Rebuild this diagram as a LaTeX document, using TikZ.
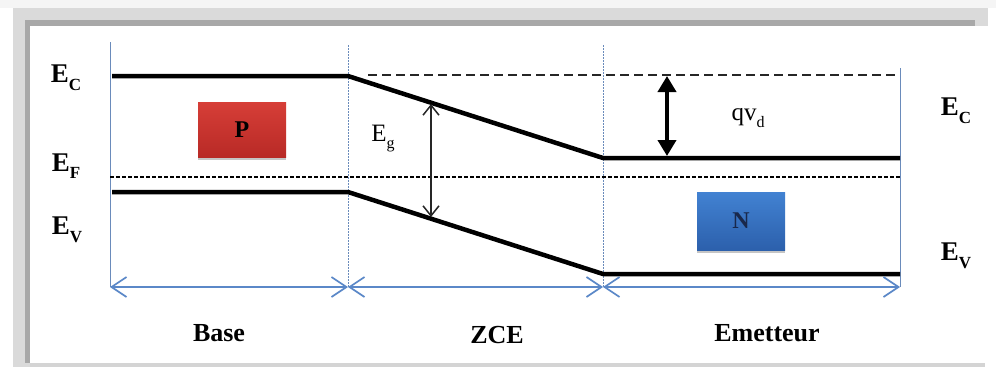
\documentclass[tikz,border=0pt]{standalone}
\usepackage{fontspec}
\setmainfont{Liberation Serif}
\usetikzlibrary{arrows.meta,shadows}
\definecolor{vline}{HTML}{6A8BBB}
\definecolor{dimblue}{HTML}{5B88C8}
\definecolor{bandlight}{HTML}{DADADA}
\definecolor{banddark}{HTML}{A8A8A8}
\newcommand{\lsub}[1]{\raisebox{-0.28em}{\fontsize{17}{17}\selectfont #1}}
\newcommand{\rsub}[1]{\raisebox{-0.28em}{\fontsize{16}{16}\selectfont #1}}
\tikzset{
  band/.style={line width=4.5pt, black, line join=round},
  bandshadow/.style={line width=3pt, black!40, line join=round},
  vsolid/.style={vline, line width=0.9pt},
  vdots/.style={vline, line width=0.9pt, dash pattern=on 1.5pt off 1.5pt},
  dimline/.style={dimblue, line width=1.7pt, {Straight Barb[length=15pt,width=20pt]}-{Straight Barb[length=15pt,width=20pt]}},
  elabel/.style={font=\fontsize{27}{27}\selectfont\bfseries, inner sep=0pt},
  zlabel/.style={font=\fontsize{26}{26}\selectfont\bfseries, inner sep=0pt},
  typebox/.style={minimum width=88pt, inner sep=0pt, font=\fontsize{24}{24}\selectfont\bfseries,
     drop shadow={shadow xshift=0pt, shadow yshift=-2.5pt, opacity=0.45}},
}
\begin{document}
\begin{tikzpicture}[x=1pt,y=-1pt]
\useasboundingbox (0,0) rectangle (996,367);
% frame
\fill[white] (0,0) rectangle (996,367);
\fill[black!4] (0,0) rectangle (996,8);
\fill[bandlight] (13,8) rectangle (988,26);
\fill[bandlight] (13,8) rectangle (30,367);
\fill[banddark] (25,20) rectangle (975,26);
\fill[banddark] (25,20) rectangle (30,363);
\fill[black!17] (30,363) rectangle (985,367);
% coordinates
\coordinate (vl0) at (110,42);  \coordinate (vl1) at (110,287);
\coordinate (va0) at (348,45);  \coordinate (va1) at (348,287);
\coordinate (vb0) at (603,45);  \coordinate (vb1) at (603,287);
\coordinate (vr0) at (900,68);  \coordinate (vr1) at (900,287);
\coordinate (c0) at (112,76); \coordinate (c1) at (348,76); \coordinate (c2) at (603,158); \coordinate (c3) at (900,158);
\coordinate (v0) at (112,192); \coordinate (v1) at (348,192); \coordinate (v2) at (603,274); \coordinate (v3) at (900,274);
\coordinate (f0) at (110,177); \coordinate (f1) at (900,177);
\coordinate (t0) at (368,75); \coordinate (t1) at (898,75);
% vertical guides
\draw[vsolid] (vl0) -- (vl1);
\draw[vdots] (va0) -- (va1);
\draw[vdots] (vb0) -- (vb1);
\draw[vsolid] (vr0) -- (vr1);
% dashed lines
\draw[black, line width=1.3pt, dash pattern=on 4pt off 2pt] (f0) -- (f1);
\draw[black!85, line width=1.8pt, dash pattern=on 9pt off 5pt] (t0) -- (t1);
% bands
\draw[bandshadow, shift={(1,2.5)}] (c1) -- (c2) -- (c3);
\draw[bandshadow, shift={(1,2.5)}] (v1) -- (v2) -- (v3);
\draw[band] (c0) -- (c1) -- (c2) -- (c3);
\draw[band] (v0) -- (v1) -- (v2) -- (v3);
% Eg arrow
\coordinate (egt) at (431,104); \coordinate (egb) at (431,217);
\draw[black!85, line width=1.5pt, {Straight Barb[length=10pt,width=16pt]}-{Straight Barb[length=10pt,width=16pt]}] (egt) -- (egb);
% qVd arrow
\coordinate (qt) at (667,76); \coordinate (qb) at (667,156);
\draw[black, line width=3.8pt, {Triangle[length=16pt,width=18pt]}-{Triangle[length=16pt,width=18pt]}] (qt) -- (qb);
% dimension arrows
\draw[dimline] (vl1) -- (va1);
\draw[dimline] (va1) -- (vb1);
\draw[dimline] (vb1) -- (vr1);
% boxes
\node[typebox, minimum height=55pt, top color={rgb,255:red,214;green,62;blue,55}, bottom color={rgb,255:red,184;green,42;blue,38}] (P) at (242,130) {P};
\node[typebox, minimum height=58pt, top color={rgb,255:red,66;green,130;blue,210}, bottom color={rgb,255:red,44;green,96;blue,172}, text={rgb,255:red,25;green,40;blue,75}] (N) at (741,221) {N};
% labels
\node[elabel] (ecl) at (66,78) {E\lsub{C}};
\node[elabel] (efl) at (66,166) {E\lsub{F}};
\node[elabel] (evl) at (67,230) {E\lsub{V}};
\node[elabel] (ecr) at (956,111) {E\lsub{C}};
\node[elabel] (evr) at (956,256) {E\lsub{V}};
\node[inner sep=0pt, font=\fontsize{25}{25}\selectfont] (eg) at (383,139) {E\rsub{g}};
\node[inner sep=0pt, font=\fontsize{25}{25}\selectfont] (qvd) at (748,118) {qv\rsub{d}};
\node[zlabel] (base) at (219,333) {Base};
\node[zlabel] (zce) at (497,335) {ZCE};
\node[zlabel] (emet) at (767,333) {Emetteur};
\end{tikzpicture}
\end{document}
